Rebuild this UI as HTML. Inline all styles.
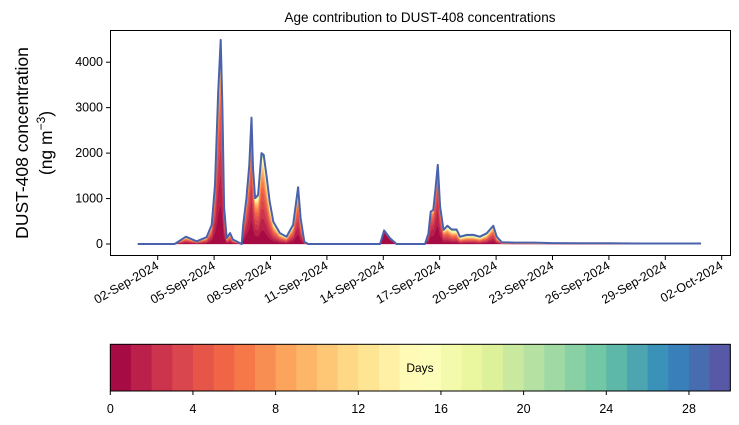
<!DOCTYPE html>
<html><head><meta charset="utf-8"><style>
body{margin:0;background:#fff}
svg{display:block;font-family:"Liberation Sans","DejaVu Sans",sans-serif}
</style></head><body>
<svg id="c" width="739" height="425" viewBox="0 0 739 425"></svg>
<script>
// data
const days=[0.94,2.9,3.5,4.07,4.6,4.87,5.05,5.22,5.35,5.44,5.53,5.67,5.85,6.0,6.47,6.55,6.72,6.87,6.99,7.07,7.18,7.34,7.52,7.64,7.78,7.96,8.15,8.5,8.85,9.2,9.47,9.6,9.8,10.0,13.83,14.04,14.35,14.7,16.22,16.4,16.52,16.66,16.77,16.9,17.02,17.2,17.41,17.64,17.9,18.08,18.44,18.79,19.14,19.5,19.85,20.03,20.3,21.0,22.0,23.0,24.5,26.0,27.5,29.0,30.0,30.9];
const totals=[0,0,160,60,150,420,1300,3350,4490,3000,800,130,240,100,0,420,1000,1740,2780,1670,1010,1080,2000,1960,1520,930,490,240,160,420,1250,570,50,0,0,300,130,0,0,230,710,750,1190,1740,820,310,400,320,320,160,200,200,160,235,400,160,40,30,30,20,15,15,10,10,10,10];
const meanAge=[6,6,6,6,6,5,4.5,4.5,4.5,4.5,5,6,6,6,6,4.5,4.5,4.5,4.5,4.5,5,6,6,6,6.5,7,7,7,7,6,5,6,7,7,1,0.6,0.8,1,4,3.5,3.5,3.5,3.5,3.5,4,5.5,7,8,8,9,9,9,9,8,5.5,7,10,12,14,14,14,14,14,14,14,14];
const xTickLabels=["02-Sep-2024","05-Sep-2024","08-Sep-2024","11-Sep-2024","14-Sep-2024","17-Sep-2024","20-Sep-2024","23-Sep-2024","26-Sep-2024","29-Sep-2024","02-Oct-2024"];
const xTickDays=[2,5,8,11,14,17,20,23,26,29,32];
const yTicks=[0,1000,2000,3000,4000];
const cbTicks=[0,4,8,12,16,20,24,28];

const NS="http://www.w3.org/2000/svg",svg=document.getElementById('c');
function mk(t,a,p){const e=document.createElementNS(NS,t);for(const k in a)e.setAttribute(k,a[k]);(p||svg).appendChild(e);return e;}
const X=d=>157.7+(d-2)*18.8, Y=v=>244-v*0.04545;
const stops=["#9e0142","#d53e4f","#f46d43","#fdae61","#fee08b","#ffffbf","#e6f598","#abdda4","#66c2a5","#3288bd","#5e4fa2"];
function hex(h){return [1,3,5].map(i=>parseInt(h.substr(i,2),16));}
function cmap(t){const s=t*10,i=Math.min(9,Math.floor(s)),f=s-i,a=hex(stops[i]),b=hex(stops[i+1]);return `rgb(${a.map((v,j)=>Math.round(v+(b[j]-v)*f)).join(',')})`;}
const binColor=k=>cmap((k+0.5)/30);

mk('text',{x:420,y:22,'text-anchor':'middle','font-size':13.5,}).textContent="Age contribution to DUST-408 concentrations";
const plot=mk('g',{});
const F=(a,m)=>a>=30?1:1-Math.exp(-a/m);
for(let k=0;k<30;k++){
  let top=[],bot=[];
  for(let i=0;i<days.length;i++){
    const m=meanAge[i],n=F(30,m);
    bot.push([X(days[i]),Y(totals[i]*F(k,m)/n)]);
    top.push([X(days[i]),Y(totals[i]*F(k+1,m)/n)]);
  }
  const pts=top.concat(bot.reverse()).map(p=>p[0].toFixed(1)+','+p[1].toFixed(1)).join(' ');
  const pg=mk('polygon',{points:pts,fill:binColor(k),stroke:binColor(k),'stroke-width':0.3},plot);
  
  
}
const line=mk('polyline',{points:days.map((d,i)=>X(d).toFixed(1)+','+Y(totals[i]).toFixed(1)).join(' '),fill:'none',stroke:'#4a62ab','stroke-width':2,'stroke-linejoin':'round'},plot);


mk('rect',{x:110.5,y:30.5,width:620,height:225,fill:'none',stroke:'#000','stroke-width':1,});
yTicks.forEach(v=>{const y=Y(v);mk('line',{x1:106,x2:110.5,y1:y,y2:y,stroke:'#000'});
 const t=mk('text',{x:103,y:y+4,'text-anchor':'end','font-size':12.5});t.textContent=v;
 });
xTickDays.forEach((d,i)=>{const x=X(d);if(x>731)return;mk('line',{x1:x,x2:x,y1:255.5,y2:260,stroke:'#000'});
 const t=mk('text',{x:x+2,y:268,'text-anchor':'end','font-size':12.5,transform:`rotate(-30 ${x+2} 268)`});t.textContent=xTickLabels[i];
 });
const yt=mk('text',{x:0,y:0,'text-anchor':'middle','font-size':17.5,transform:'translate(28,143) rotate(-90)',});
yt.textContent="DUST-408 concentration";
const yt2=mk('text',{x:0,y:0,'text-anchor':'middle','font-size':17.5,transform:'translate(52,143) rotate(-90)',});
yt2.innerHTML='(ng m<tspan font-size="12" dy="-7">−3</tspan><tspan dy="7">)</tspan>';
const cb=mk('g',{});
const CX=a=>110.3+a*(620/30);
for(let k=0;k<30;k++){const r=mk('rect',{x:CX(k),y:344.3,width:620/30+0.5,height:46.7,fill:binColor(k)},cb);
 }
mk('rect',{x:110.3,y:344.3,width:620,height:46.7,fill:'none',stroke:'#000'},cb);
cbTicks.forEach(v=>{const x=CX(v);mk('line',{x1:x,x2:x,y1:391,y2:395,stroke:'#000'},cb);
 const t=mk('text',{x:x,y:413,'text-anchor':'middle','font-size':12.5},cb);t.textContent=v;
 });
mk('text',{x:420,y:372,'text-anchor':'middle','font-size':12,}).textContent="Days";
</script>
</body></html>
